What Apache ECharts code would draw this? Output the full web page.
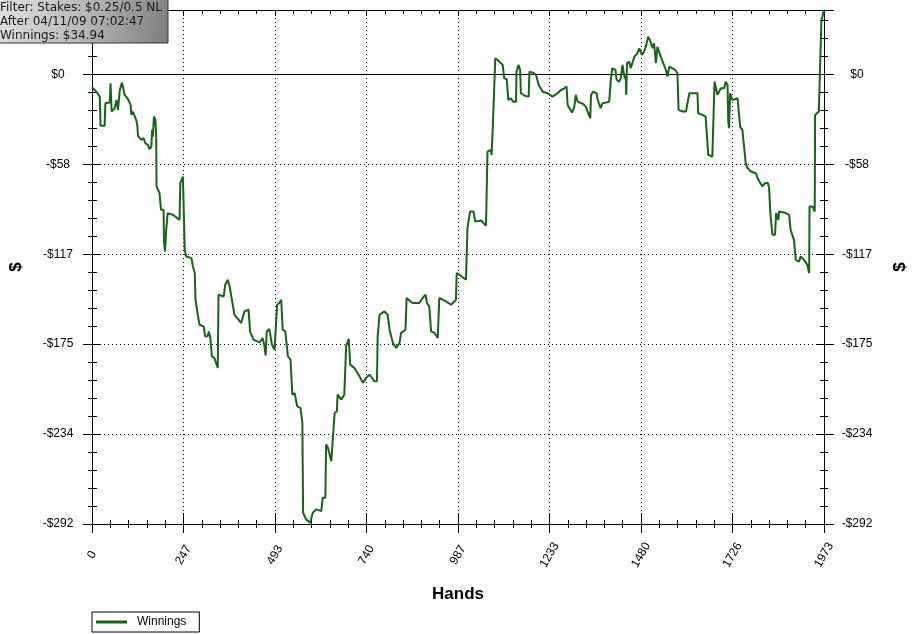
<!DOCTYPE html>
<html>
<head>
<meta charset="utf-8">
<script src="https://cdn.jsdelivr.net/npm/echarts@6/dist/echarts.min.js"></script>
<style>
html,body{margin:0;padding:0;background:#fff;}
#chart{width:922px;height:634px;}
</style>
</head>
<body>
<div id="chart"></div>
<script>
// ---- data ----
const hands = [0,12,21,23,34,36,48,50,53,61,66,70,75,81,85,88,97,104,106,110,119,122,124,133,139,144,151,155,160,162,164,167,171,173,174,182,186,193,194,197,200,204,218,236,238,245,248,250,254,268,272,277,279,285,290,301,305,312,315,319,323,330,339,341,355,359,366,371,377,384,395,402,411,422,426,435,452,460,465,468,471,478,485,492,497,499,505,510,514,521,528,535,540,546,553,562,567,569,577,588,595,604,618,622,629,631,636,645,649,654,660,662,672,680,685,692,696,707,721,730,739,748,761,768,770,775,788,797,802,811,820,829,833,845,848,864,869,882,891,899,903,909,914,923,932,936,945,954,968,981,983,990,1008,1012,1019,1028,1033,1049,1062,1066,1075,1077,1080,1084,1087,1093,1107,1111,1118,1122,1129,1135,1143,1144,1150,1154,1156,1168,1177,1179,1188,1197,1204,1215,1228,1241,1255,1264,1273,1279,1282,1287,1294,1300,1304,1309,1313,1324,1331,1336,1343,1345,1351,1360,1362,1367,1371,1376,1385,1394,1398,1402,1407,1411,1414,1421,1425,1430,1434,1439,1440,1442,1448,1452,1462,1470,1475,1482,1488,1494,1499,1504,1507,1511,1515,1520,1524,1529,1533,1538,1542,1547,1551,1556,1565,1572,1578,1581,1592,1601,1605,1610,1626,1632,1634,1645,1654,1659,1661,1672,1677,1678,1681,1686,1695,1704,1708,1713,1715,1717,1720,1726,1740,1744,1747,1753,1758,1762,1767,1776,1789,1796,1807,1814,1822,1825,1829,1834,1841,1844,1850,1852,1870,1879,1883,1892,1897,1906,1910,1919,1928,1933,1934,1942,1948,1949,1959,1964,1966,1973];
const winnings = [-8.3,-11.2,-14.4,-33.4,-33.4,-18.7,-18.3,-5.7,-24.1,-22,-16.6,-23,-10,-5.3,-5.7,-13.3,-16.1,-19.8,-26.3,-24.1,-29.5,-32.8,-39.9,-42.5,-41.4,-44.7,-45.8,-48.6,-46.9,-36,-40.4,-27.4,-29.5,-40.4,-72.8,-77.1,-88,-88,-108.6,-115,-101,-90.1,-91.2,-94.5,-70.6,-66.4,-66.4,-114,-118.3,-119.4,-124.8,-129.1,-146.4,-156.2,-162.7,-163.8,-170.3,-170,-167,-171.3,-183.2,-184.3,-190.8,-143.2,-144.3,-136.7,-133.4,-137.8,-146.4,-156.2,-159.4,-161.6,-154,-152.9,-167,-172.4,-174.1,-171.3,-176.7,-182.7,-167,-165.4,-175.6,-178.9,-178.5,-149.7,-148.6,-146.4,-165.9,-167,-183.2,-185.4,-208.1,-207,-215.7,-216.7,-226.5,-284.9,-289.2,-291.4,-284.9,-282.7,-283.8,-275.1,-275.1,-240.5,-242.7,-251.4,-237.3,-219.9,-218.9,-208.1,-211.3,-208.1,-176.7,-171.9,-188.6,-190.7,-196.2,-200.5,-197.2,-195.1,-199.4,-199.4,-170.2,-156.2,-154,-156.2,-165.9,-174.5,-177.8,-174.5,-168,-165.9,-145.3,-148.6,-149.7,-148.6,-145.3,-143.2,-148.6,-150.8,-167,-168,-171.3,-145.3,-146.4,-147.5,-149.7,-146.4,-129.1,-130.2,-133.4,-99.8,-89.1,-89.1,-95.6,-94.9,-98.4,-50.1,-49,-52.3,-36,-34.9,10.5,9.4,6.2,-2.5,-3.1,-16.6,-15.5,-17.7,-17.7,1.8,6.2,2.9,-12.2,-14,-14.4,1.8,1.2,-0.3,-6.8,-11.2,-12.2,-14.4,-12.2,-10.1,-9,-7.9,-19.8,-21.9,-24.8,-20.9,-13.3,-17.7,-18.3,-19.2,-20.9,-24.1,-28.4,-13.3,-11.2,-12.2,-15.5,-19.2,-21.9,-18.7,-18.3,-17.7,-4.7,4,4,2.9,-3.6,-4.7,-2.5,6.2,-0.3,-3.6,-13.3,7.3,8.3,4,11.6,13.8,17,12.7,14.8,19.2,24.5,22.4,23,17,20.3,7.3,18,17,11.6,8.3,7.3,2.9,-1.4,5.1,4,2.9,0.8,-23,-24.1,-24.1,-25.2,-12.2,-12.2,-12.2,-25.2,-26.3,-27.4,-28.4,-52.3,-53.4,-54.4,-4.7,-7.9,-13.3,-9,-9,-4.7,-6.8,-30.6,-34.9,-12.2,-16.6,-15.5,-16,-33.9,-36,-47.9,-57.7,-60.9,-63.1,-64.2,-68.5,-72.8,-70.6,-70.6,-73.9,-92.3,-104.2,-104.2,-90.1,-94.5,-89.1,-90.1,-91.2,-101,-107.5,-120.5,-121.6,-118.3,-120.5,-123.7,-129.1,-85.8,-85.8,-89.1,-26.3,-24.1,-23,34.94,41.9];
const seriesName = 'Winnings';
const xName = 'Hands';
const yName = '$';
const xMin = 0, xMax = 1973;
const yMin = -292.2, yMax = 41.9, yStep = 58.44;
const infoLines = ['Filter: Stakes: $0.25/0.5 NL', 'After 04/11/09 07:02:47', 'Winnings: $34.94'];

// ---- chart ----
const FONT = '"Liberation Sans", Arial, sans-serif';
const xStep = (xMax - xMin) / 8;
const points = hands.map((h, i) => [h, winnings[i]]);

function yLabel(v) {
  const k = Math.round(v / yStep);
  if (Math.abs(v - k * yStep) > 0.01) return '';
  const a = Math.round(Math.abs(v));
  return (v < -0.01 ? '-$' : '$') + a;
}
function xLabel(v) {
  return String(Math.round(v));
}

const blackLine = { show: true, onZero: false, lineStyle: { color: '#000', width: 1 } };
const noLine = { show: false, onZero: false };
const dotted = { show: true, lineStyle: { color: '#000', width: 1, type: [1, 3] } };

function yAx(pos, inside, len, mlen, labels, split) {
  return {
    type: 'value', position: pos, min: yMin, max: yMax, interval: yStep, offset: 0,
    axisLine: labels ? blackLine : noLine,
    axisTick: { show: true, inside: inside, length: len, lineStyle: { color: '#000', width: 1 } },
    minorTick: { show: true, splitNumber: 5, length: mlen, lineStyle: { color: '#000', width: 1 } },
    axisLabel: labels ? { show: true, formatter: yLabel, align: 'center', margin: pos === 'left' ? 34 : 33,
      color: '#000', fontSize: 12, fontFamily: FONT, showMaxLabel: false } : { show: false },
    splitLine: split ? dotted : { show: false },
    minorSplitLine: { show: false },
    name: labels ? yName : '', nameLocation: 'middle', nameRotate: 90,
    nameGap: pos === 'left' ? 67 : 68,
    nameTextStyle: { fontSize: 17, fontWeight: 'bold', color: '#000', fontFamily: FONT }
  };
}
function xAx(pos, inside, len, mlen, labels, split, line) {
  return {
    type: 'value', position: pos, min: xMin, max: xMax, interval: xStep, offset: 0,
    axisLine: line ? blackLine : noLine,
    axisTick: { show: true, inside: inside, length: len, lineStyle: { color: '#000', width: 1 } },
    minorTick: { show: true, splitNumber: 5, length: mlen, lineStyle: { color: '#000', width: 1 } },
    axisLabel: labels ? { show: true, formatter: xLabel, rotate: 60, margin: 31, align: 'center',
      verticalAlign: 'middle', color: '#000', fontSize: 12, fontFamily: FONT } : { show: false },
    splitLine: split ? dotted : { show: false },
    minorSplitLine: { show: false },
    name: labels ? xName : '', nameLocation: 'middle', nameGap: 62,
    nameTextStyle: { fontSize: 17, fontWeight: 'bold', color: '#000', fontFamily: FONT }
  };
}

const chart = echarts.init(document.getElementById('chart'), null, { renderer: 'canvas' });
chart.setOption({
  backgroundColor: '#fff',
  animation: false,
  grid: { left: 92, right: 98, top: 10, bottom: 110, containLabel: false, outerBoundsMode: 'none' },
  xAxis: [
    xAx('bottom', false, 9, 4, true, true, true),
    xAx('bottom', true, 11, 4, false, false, false),
    xAx('top', true, 6, 4, false, false, true)
  ],
  yAxis: [
    yAx('left', false, 9, 4, true, true),
    yAx('left', true, 8, 5, false, false),
    yAx('right', false, 10, 4, true, false),
    yAx('right', true, 7, 4, false, false)
  ],
  legend: {
    left: 92, top: 612, orient: 'horizontal',
    padding: [4, 13, 4, 4], borderColor: '#000', borderWidth: 1, backgroundColor: '#fff',
    itemWidth: 31, itemHeight: 3,
    data: [{ name: seriesName, icon: 'rect' }],
    textStyle: { color: '#000', fontSize: 12, fontFamily: FONT, padding: [0, 0, 0, 5] }
  },
  series: [{
    name: seriesName, type: 'line', data: points, xAxisIndex: 0, yAxisIndex: 0,
    showSymbol: false, symbol: 'none',
    lineStyle: { color: '#176317', width: 2 }, itemStyle: { color: '#176317' },
    clip: true, z: 3,
    markLine: {
      silent: true, symbol: ['none', 'none'], label: { show: false },
      lineStyle: { color: '#000', type: 'solid', width: 1 },
      data: [{ yAxis: 0 }], z: 2
    }
  }],
  graphic: [
    {
      type: 'rect', z: 100,
      shape: { x: -5, y: -2, width: 173, height: 45 },
      style: {
        fill: new echarts.graphic.LinearGradient(0, 0, 1, 1, [
          { offset: 0, color: '#e4e4e4' }, { offset: 0.55, color: '#b4b4b4' }, { offset: 1, color: '#7c7c7c' }
        ]),
        stroke: '#333', lineWidth: 1
      }
    }
  ].concat(infoLines.map((t, i) => ({
    type: 'text', z: 101,
    style: { text: t, x: 0, y: 8 + 14 * i, fill: '#1a1a1a', font: '12px "DejaVu Sans", Verdana, sans-serif',
      align: 'left', verticalAlign: 'middle' }
  })))
});
</script>
</body>
</html>
